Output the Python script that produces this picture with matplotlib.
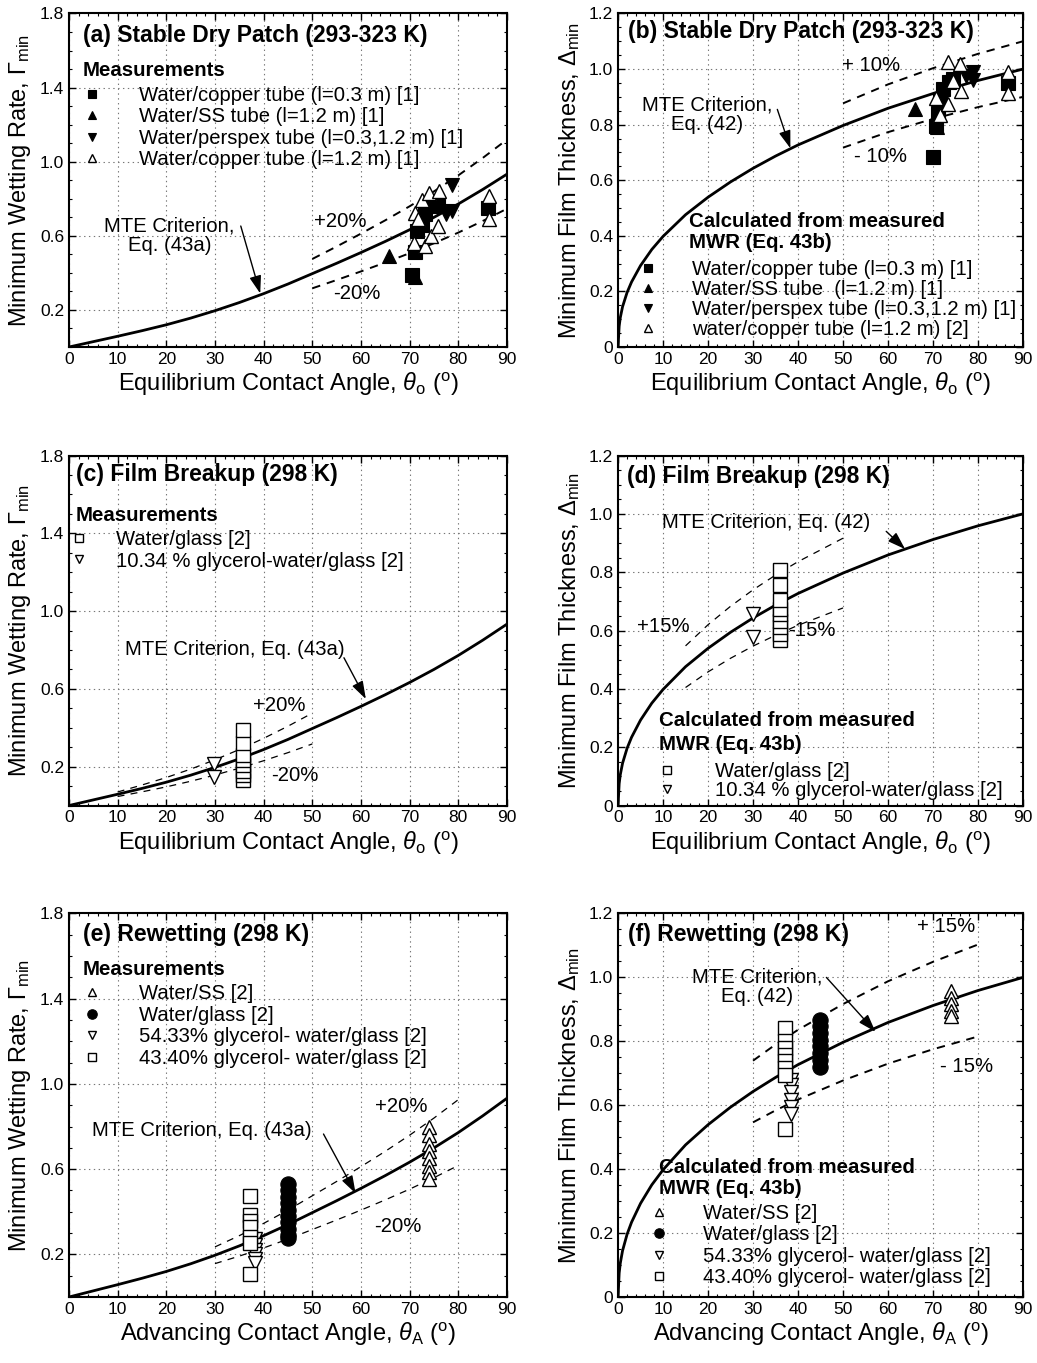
import numpy as np
import matplotlib.pyplot as plt
from matplotlib.ticker import FixedLocator

plt.rcParams['font.family'] = ['Liberation Sans', 'DejaVu Sans']
plt.rcParams['mathtext.fontset'] = 'custom'
plt.rcParams['mathtext.rm'] = 'Liberation Sans'
plt.rcParams['mathtext.it'] = 'Liberation Sans:italic'
plt.rcParams['mathtext.bf'] = 'Liberation Sans:bold'
plt.rcParams['lines.scale_dashes'] = False

# MTE criterion, minimum wetting rate (Eq. 43a)
theta_g = [0, 5, 10, 15, 20, 25, 30, 35, 40, 45, 50, 55, 60, 65, 70, 75, 80, 85, 90]
gamma_mte = [0, 0.029, 0.058, 0.088, 0.120, 0.156, 0.196, 0.240, 0.288, 0.340, 0.396,
             0.452, 0.510, 0.570, 0.633, 0.700, 0.772, 0.850, 0.933]

# MTE criterion, minimum film thickness (Eq. 42)
theta_d = [0, 0.25, 0.5, 1, 2, 3, 5, 7.5, 10, 15, 20, 25, 30, 35, 40, 50, 60, 70, 80, 90]
delta_mte = [0, 0.075, 0.106, 0.145, 0.196, 0.234, 0.293, 0.351, 0.398, 0.476, 0.539,
             0.594, 0.643, 0.687, 0.727, 0.797, 0.859, 0.912, 0.959, 1.0]

# (a) stable dry patch, measured MWR
a_cu03_th = [70.5, 71.2, 71.5, 72.5, 73.2, 74.2, 75.9, 86.2]
a_cu03_g = [0.387, 0.511, 0.627, 0.66, 0.716, 0.778, 0.76, 0.751]
a_ss_th = [65.7, 71.2]
a_ss_g = [0.493, 0.38]
a_pp_th = [78.7, 78.7, 77.5]
a_pp_g = [0.876, 0.733, 0.72]
a_cu12_th = [70.8, 71.2, 71.8, 72.5, 73.2, 73.9, 74.4, 75.8, 76.1, 86.3, 86.3]
a_cu12_g = [0.564, 0.724, 0.69, 0.796, 0.547, 0.831, 0.60, 0.653, 0.844, 0.813, 0.689]

# (b) stable dry patch, film thickness from measured MWR
b_cu03_th = [70.0, 70.7, 71.1, 71.5, 72.2, 73.5, 74.4, 86.7]
b_cu03_d = [0.685, 0.794, 0.842, 0.891, 0.93, 0.955, 0.965, 0.95]
b_ss_th = [65.9, 70.9]
b_ss_d = [0.855, 0.79]
b_pp_th = [77.4, 78.9, 78.9]
b_pp_d = [0.975, 0.99, 0.96]
b_cu12_th = [70.7, 71.5, 73.3, 73.3, 74.4, 75.9, 76.3, 86.7, 86.7]
b_cu12_d = [0.897, 0.836, 1.024, 0.873, 0.958, 1.018, 0.921, 0.988, 0.915]

# (c), (d) film breakup
c_glass_th = [35.8] * 8
c_glass_g = [0.13, 0.157, 0.18, 0.21, 0.235, 0.26, 0.32, 0.39]
c_gly_th = [29.8, 29.8]
c_gly_g = [0.214, 0.145]
d_glass_th = [36.1] * 9
d_glass_d = [0.566, 0.589, 0.611, 0.634, 0.657, 0.675, 0.703, 0.755, 0.807]
d_gly_th = [30.0, 30.0]
d_gly_d = [0.657, 0.577]

# (e), (f) rewetting
e_ss_th = [74.0] * 8
e_ss_g = [0.80, 0.76, 0.72, 0.685, 0.654, 0.615, 0.585, 0.554]
e_gl_th = [45.0] * 10
e_gl_g = [0.53, 0.50, 0.47, 0.44, 0.41, 0.38, 0.35, 0.32, 0.29, 0.277]
e_g54_th = [38.3] * 6
e_g54_g = [0.27, 0.245, 0.22, 0.20, 0.18, 0.16]
e_g43_th = [37.2] * 7
e_g43_g = [0.476, 0.384, 0.355, 0.33, 0.28, 0.255, 0.11]

f_ss_th = [74.0] * 5
f_ss_d = [0.958, 0.937, 0.916, 0.895, 0.879]
f_gl_th = [44.8] * 8
f_gl_d = [0.868, 0.847, 0.826, 0.805, 0.784, 0.763, 0.742, 0.721]
f_g54_th = [38.5] * 6
f_g54_d = [0.679, 0.663, 0.642, 0.616, 0.595, 0.574]
f_g43_th = [37.0] * 8
f_g43_d = [0.842, 0.80, 0.779, 0.758, 0.737, 0.716, 0.695, 0.526]

x_ticks = [0, 10, 20, 30, 40, 50, 60, 70, 80, 90]
mwr_ticks = [0.2, 0.6, 1.0, 1.4, 1.8]
mft_ticks = [0, 0.2, 0.4, 0.6, 0.8, 1.0, 1.2]

tube_labels_a = ['Water/copper tube (l=0.3 m) [1]', 'Water/SS tube (l=1.2 m) [1]',
                 'Water/perspex tube (l=0.3,1.2 m) [1]', 'Water/copper tube (l=1.2 m) [1]']
tube_labels_b = ['Water/copper tube (l=0.3 m) [1]', 'Water/SS tube  (l=1.2 m) [1]',
                 'Water/perspex tube (l=0.3,1.2 m) [1]', 'water/copper tube (l=1.2 m) [2]']
breakup_labels = ['Water/glass [2]', '10.34 % glycerol-water/glass [2]']
rewet_labels = ['Water/SS [2]', 'Water/glass [2]',
                '54.33% glycerol- water/glass [2]', '43.40% glycerol- water/glass [2]']

fig = plt.figure(figsize=(10.37, 13.63), dpi=100)
L, R, WL, WR = 0.0665, 0.596, 0.4224, 0.3905
ax_a = fig.add_axes([L, 0.7454, WL, 0.2447])
ax_b = fig.add_axes([R, 0.7454, WR, 0.2447])
ax_c = fig.add_axes([L, 0.4090, WL, 0.2568])
ax_d = fig.add_axes([R, 0.4090, WR, 0.2568])
ax_e = fig.add_axes([L, 0.0484, WL, 0.2814])
ax_f = fig.add_axes([R, 0.0484, WR, 0.2814])

eq_x = r'Equilibrium Contact Angle, $\theta_{\mathrm{o}}$ ($^{\mathrm{o}}$)'
adv_x = r'Advancing Contact Angle, $\theta_{\mathrm{A}}$ ($^{\mathrm{o}}$)'
mwr_y = r'Minimum Wetting Rate, $\mathit{\Gamma}_{\mathrm{min}}$'
mft_y = r'Minimum Film Thickness, $\Delta_{\mathrm{min}}$'

TITLE = 16.5
HEAD = 14.7
ENTRY = 14.6
NOTE = 14.6


def fmt(v):
    return '0' if v == 0 else f'{v:.1f}'


def frame(ax, kind, xlabel):
    ax.set_xlim(0, 90)
    ax.xaxis.set_major_locator(FixedLocator(x_ticks))
    ax.xaxis.set_minor_locator(FixedLocator(np.arange(0, 91, 2)))
    ax.set_xticklabels([str(v) for v in x_ticks])
    if kind == 'mwr':
        ax.set_ylim(0, 1.8)
        ax.yaxis.set_major_locator(FixedLocator(mwr_ticks))
        ax.yaxis.set_minor_locator(FixedLocator(np.arange(0, 1.81, 0.1)))
        ax.set_yticklabels([fmt(v) for v in mwr_ticks])
        ax.set_ylabel(mwr_y, fontsize=17, labelpad=5)
    else:
        ax.set_ylim(0, 1.2)
        ax.yaxis.set_major_locator(FixedLocator(mft_ticks))
        ax.yaxis.set_minor_locator(FixedLocator(np.arange(0, 1.21, 0.05)))
        ax.set_yticklabels([fmt(v) for v in mft_ticks])
        ax.set_ylabel(mft_y, fontsize=17, labelpad=5)
    ax.set_xlabel(xlabel, fontsize=17, labelpad=3)
    ax.tick_params(which='both', direction='in', top=True, right=True, labelsize=12.5)
    ax.tick_params(which='major', length=5, width=1)
    ax.tick_params(which='minor', length=2.5, width=0.8)
    ax.grid(True, which='major', linestyle=(0, (1, 2.5)), color='#777777', linewidth=0.8)
    for s in ax.spines.values():
        s.set_linewidth(1.5)


def curve(ax, th, val, bands, lo, hi, thick):
    th = np.asarray(th)
    val = np.asarray(val)
    ax.plot(th, val, color='k', lw=2.0, zorder=3)
    sel = (th >= lo) & (th <= hi)
    lw = 1.4 if thick else 0.9
    dash = (0, (6, 5)) if thick else (0, (5, 4.5))
    for f in bands:
        ax.plot(th[sel], val[sel] * f, color='k', lw=lw, linestyle=dash, zorder=3)


def arrow(ax, start, tip):
    ax.annotate('', xy=tip, xytext=start,
                arrowprops=dict(arrowstyle='-|>,head_length=0.9,head_width=0.3',
                                color='k', lw=1.0, mutation_scale=12,
                                shrinkA=0, shrinkB=0), zorder=5)


def key(ax, handles, labels, x, y, pad, spacing=0.12):
    ax.legend(handles, labels, loc='upper left', bbox_to_anchor=(x, y), frameon=False,
              fontsize=ENTRY, handlelength=0.8, handletextpad=pad, borderpad=0,
              borderaxespad=0, labelspacing=spacing, markerscale=0.62)


def title(ax, x, y, s):
    ax.text(x, y, s, transform=ax.transAxes, fontsize=TITLE, fontweight='bold', va='center')


def heading(ax, x, y, s, ls=1.15):
    ax.text(x, y, s, transform=ax.transAxes, fontsize=HEAD, fontweight='bold',
            va='center', linespacing=ls)


def note(ax, x, y, s, ha='center'):
    ax.text(x, y, s, ha=ha, va='center', fontsize=NOTE, linespacing=1.05)


mk = dict(linestyle='none', color='k', zorder=4)
filled = dict(mfc='k', mec='k', mew=0.8)
hollow = dict(mfc='white', mec='k', mew=1.0)

# ---------------- (a)
ax = ax_a
frame(ax, 'mwr', eq_x)
curve(ax, theta_g, gamma_mte, [1.2, 0.8], 50, 90, True)
h = [ax.plot(a_cu03_th, a_cu03_g, 's', ms=9.5, **filled, **mk)[0],
     ax.plot(a_ss_th, a_ss_g, '^', ms=10, **filled, **mk)[0],
     ax.plot(a_pp_th, a_pp_g, 'v', ms=10, **filled, **mk)[0],
     ax.plot(a_cu12_th, a_cu12_g, '^', ms=10, **hollow, **mk)[0]]
title(ax, 0.031, 0.935, '(a) Stable Dry Patch (293-323 K)')
heading(ax, 0.031, 0.83, 'Measurements')
key(ax, h, tube_labels_a, 0.034, 0.783, 1.9)
note(ax, 20.7, 0.60, 'MTE Criterion,\nEq. (43a)')
arrow(ax, (35.3, 0.653), (39.3, 0.289))
note(ax, 55.7, 0.68, '+20%')
note(ax, 59.2, 0.29, '-20%')

# ---------------- (b)
ax = ax_b
frame(ax, 'mft', eq_x)
curve(ax, theta_d, delta_mte, [1.1, 0.9], 50, 90, True)
h = [ax.plot(b_cu03_th, b_cu03_d, 's', ms=9.5, **filled, **mk)[0],
     ax.plot(b_ss_th, b_ss_d, '^', ms=10, **filled, **mk)[0],
     ax.plot(b_pp_th, b_pp_d, 'v', ms=10, **filled, **mk)[0],
     ax.plot(b_cu12_th, b_cu12_d, '^', ms=10, **hollow, **mk)[0]]
title(ax, 0.025, 0.945, '(b) Stable Dry Patch (293-323 K)')
heading(ax, 0.174, 0.345, 'Calculated from measured\nMWR (Eq. 43b)')
key(ax, h, tube_labels_b, 0.053, 0.262, 1.8, spacing=0.05)
note(ax, 19.8, 0.835, 'MTE Criterion,\nEq. (42)')
arrow(ax, (35.4, 0.855), (38.3, 0.715))
note(ax, 56.2, 1.012, '+ 10%')
note(ax, 58.4, 0.685, '- 10%')

# ---------------- (c)
ax = ax_c
frame(ax, 'mwr', eq_x)
curve(ax, theta_g, gamma_mte, [1.2, 0.8], 10, 50, False)
h = [ax.plot(c_glass_th, c_glass_g, 's', ms=9.5, **hollow, **mk)[0],
     ax.plot(c_gly_th, c_gly_g, 'v', ms=10, **hollow, **mk)[0]]
title(ax, 0.015, 0.945, '(c) Film Breakup (298 K)')
heading(ax, 0.015, 0.83, 'Measurements')
key(ax, h, breakup_labels, 0.004, 0.787, 1.45)
note(ax, 34, 0.80, 'MTE Criterion, Eq. (43a)')
arrow(ax, (56.5, 0.76), (61.0, 0.548))
note(ax, 43.3, 0.513, '+20%')
note(ax, 46.4, 0.156, '-20%')

# ---------------- (d)
ax = ax_d
frame(ax, 'mft', eq_x)
curve(ax, theta_d, delta_mte, [1.15, 0.85], 15, 50, False)
h = [ax.plot(d_glass_th, d_glass_d, 's', ms=9.5, **hollow, **mk)[0],
     ax.plot(d_gly_th, d_gly_d, 'v', ms=10, **hollow, **mk)[0]]
title(ax, 0.022, 0.94, '(d) Film Breakup (298 K)')
heading(ax, 0.10, 0.208, 'Calculated from measured\nMWR (Eq. 43b)', ls=1.3)
key(ax, h, breakup_labels, 0.10, 0.124, 2.0, spacing=0.0)
note(ax, 9.8, 0.969, 'MTE Criterion, Eq. (42)', ha='left')
arrow(ax, (59.6, 0.94), (63.8, 0.879))
note(ax, 10.0, 0.615, '+15%')
note(ax, 43.0, 0.60, '-15%')

# ---------------- (e)
ax = ax_e
frame(ax, 'mwr', adv_x)
curve(ax, theta_g, gamma_mte, [1.2, 0.8], 30, 80, False)
h = [ax.plot(e_ss_th, e_ss_g, '^', ms=10, **hollow, **mk)[0],
     ax.plot(e_gl_th, e_gl_g, 'o', ms=11, **filled, **mk)[0],
     ax.plot(e_g54_th, e_g54_g, 'v', ms=10, **hollow, **mk)[0],
     ax.plot(e_g43_th, e_g43_g, 's', ms=9.5, **hollow, **mk)[0]]
title(ax, 0.031, 0.945, '(e) Rewetting (298 K)')
heading(ax, 0.031, 0.853, 'Measurements')
key(ax, h, rewet_labels, 0.034, 0.815, 1.9)
note(ax, 27.3, 0.78, 'MTE Criterion, Eq. (43a)')
arrow(ax, (52.3, 0.765), (58.9, 0.486))
note(ax, 68.3, 0.892, '+20%')
note(ax, 67.6, 0.33, '-20%')

# ---------------- (f)
ax = ax_f
frame(ax, 'mft', adv_x)
curve(ax, theta_d, delta_mte, [1.15, 0.85], 30, 80, True)
h = [ax.plot(f_ss_th, f_ss_d, '^', ms=10, **hollow, **mk)[0],
     ax.plot(f_gl_th, f_gl_d, 'o', ms=11, **filled, **mk)[0],
     ax.plot(f_g54_th, f_g54_d, 'v', ms=10, **hollow, **mk)[0],
     ax.plot(f_g43_th, f_g43_d, 's', ms=9.5, **hollow, **mk)[0]]
title(ax, 0.025, 0.945, '(f) Rewetting (298 K)')
heading(ax, 0.10, 0.31, 'Calculated from measured\nMWR (Eq. 43b)')
key(ax, h, rewet_labels, 0.08, 0.243, 1.8)
note(ax, 31.0, 0.97, 'MTE Criterion,\nEq. (42)')
arrow(ax, (46.3, 1.0), (57.2, 0.83))
note(ax, 73.0, 1.16, '+ 15%')
note(ax, 77.4, 0.72, '- 15%')

fig.savefig('out.png', dpi=100)
